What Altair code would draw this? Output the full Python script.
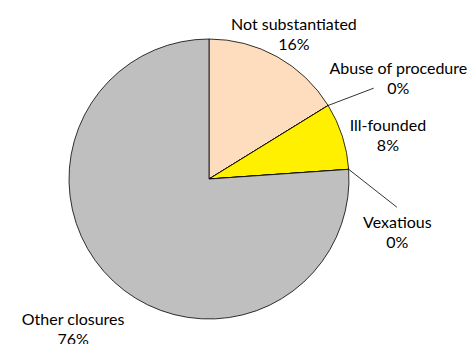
import math
import altair as alt
import pandas as pd

# ---- data ----
categories = ["Not substantiated", "Abuse of procedure", "Ill-founded", "Vexatious", "Other closures"]
shares = [16.2, 0.0, 7.7, 0.0, 76.1]
colors = ["#FDDDBD", "#FFFFFF", "#FFF000", "#FFFFFF", "#BFBFBF"]

# ---- layout (pixels / degrees) ----
W, H = 472, 344
CX, CY, R = 209, 179, 140
label_radius = [167, 214, 184, 196, 203]
label_nudge = [1.4, 3.9, 4.3, 20.0, -1.0]
leader_cats = ["Abuse of procedure", "Vexatious"]
leader_end_radius = [188, 190]
leader_end_nudge = [2.8, 12.5]
LINE_H = 20

total = sum(shares)
starts, mids = [], []
acc = 0.0
for s in shares:
    a0 = acc / total * 360.0
    a1 = (acc + s) / total * 360.0
    starts.append(a0)
    mids.append((a0 + a1) / 2.0)
    acc += s


def polar(deg, r):
    t = math.radians(deg)
    return CX + r * math.sin(t), CY - r * math.cos(t)


pie_df = pd.DataFrame({
    "category": categories,
    "share": shares,
    "idx": list(range(len(categories))),
})

lab_rows = []
for i, c in enumerate(categories):
    x, y = polar(mids[i] + label_nudge[i], label_radius[i])
    lab_rows.append({"category": c, "x": x, "y": y,
                     "label": f"{c}\n{round(shares[i])}%"})
lab_df = pd.DataFrame(lab_rows)

lead_rows = []
for c, r2, nd in zip(leader_cats, leader_end_radius, leader_end_nudge):
    i = categories.index(c)
    x1, y1 = polar(mids[i], R)
    x2, y2 = polar(mids[i] + nd, r2)
    lead_rows.append({"category": c, "x1": x1, "y1": y1, "x2": x2, "y2": y2})
lead_df = pd.DataFrame(lead_rows)

pie = alt.Chart(pie_df).mark_arc(outerRadius=R, stroke="#000000", strokeWidth=0.8).encode(
    theta=alt.Theta("share:Q", stack=True),
    color=alt.Color("category:N", scale=alt.Scale(domain=categories, range=colors), legend=None),
    order=alt.Order("idx:Q"),
    x=alt.value(CX),
    y=alt.value(CY),
)

leaders = alt.Chart(lead_df).mark_rule(color="#000000", strokeWidth=0.8).encode(
    x=alt.X("x1:Q", scale=None),
    y=alt.Y("y1:Q", scale=None),
    x2="x2:Q",
    y2="y2:Q",
)

labels = alt.Chart(lab_df).mark_text(
    font="Lato", fontSize=16, align="center", baseline="middle",
    lineBreak="\n", lineHeight=LINE_H, dy=-LINE_H / 2, color="#000000",
).encode(
    x=alt.X("x:Q", scale=None),
    y=alt.Y("y:Q", scale=None),
    text="label:N",
)

chart = (pie + leaders + labels).properties(
    width=W, height=H, padding=0,
    autosize=alt.AutoSizeParams(type="none"),
).configure_view(stroke=None)

chart.save("out.html", embed_options={"renderer": "svg", "actions": False})
